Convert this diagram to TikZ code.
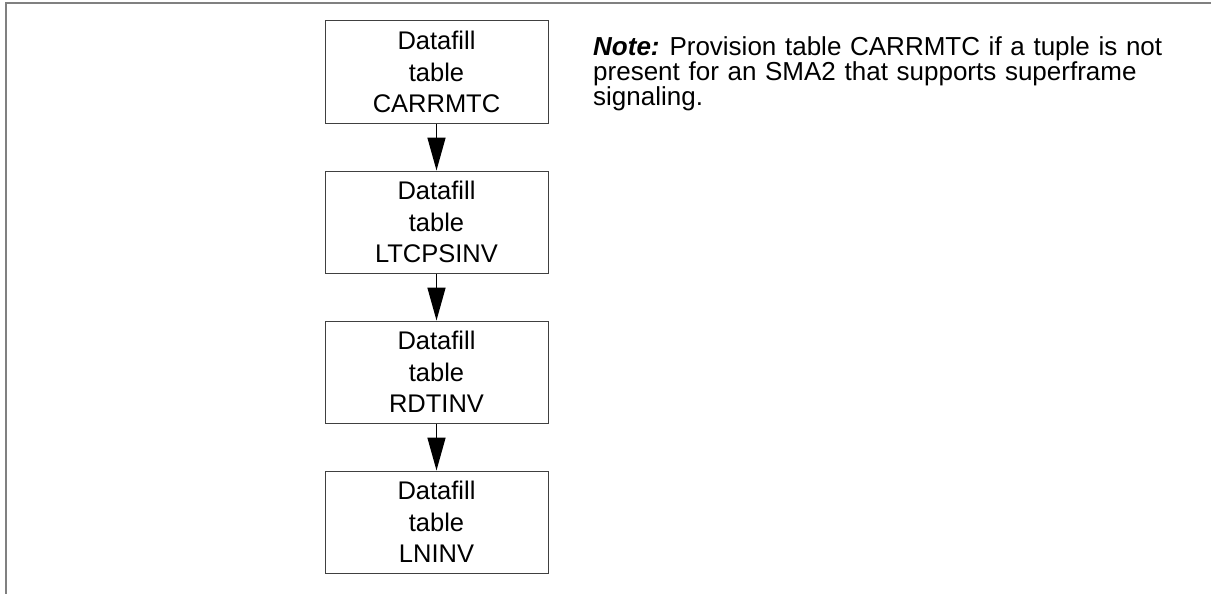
\documentclass[tikz,border=0pt]{standalone}
\usepackage{fontspec}
\setmainfont{Liberation Sans}
\usetikzlibrary{arrows.meta}
\begin{document}
\begin{tikzpicture}[x=1pt,y=-1pt,
  stepbox/.style={draw=black!75, line width=1pt, minimum width=223pt, minimum height=102pt,
    inner sep=0pt, align=center, font=\fontsize{25.5}{31.5}\selectfont},
  flow/.style={line width=1.6pt, -{Triangle[length=33pt,width=18pt]}},
  frameline/.style={draw=black!50, line width=2pt}]
\useasboundingbox (0,0) rectangle (1211,594);
\draw[frameline] (1211,3) -- (5.5,3) -- (5.5,594);
\node[stepbox] (b1) at (436.5,72) {Datafill\\table\\CARRMTC};
\node[stepbox] (b2) at (436.5,222) {Datafill\\table\\LTCPSINV};
\node[stepbox] (b3) at (436.5,372) {Datafill\\table\\RDTINV};
\node[stepbox] (b4) at (436.5,522) {Datafill\\table\\LNINV};
\draw[flow] (b1) -- (b2);
\draw[flow] (b2) -- (b3);
\draw[flow] (b3) -- (b4);
\node[anchor=north west, inner sep=0pt, text width=600pt, align=left,
  font=\fontsize{26}{25}\selectfont] (note) at (593,36)
  {\textbf{\textit{Note:}}\hspace{0.38em}Provision table CARRMTC if a tuple is not\\present for an SMA2 that supports superframe\\signaling.};
\end{tikzpicture}
\end{document}
